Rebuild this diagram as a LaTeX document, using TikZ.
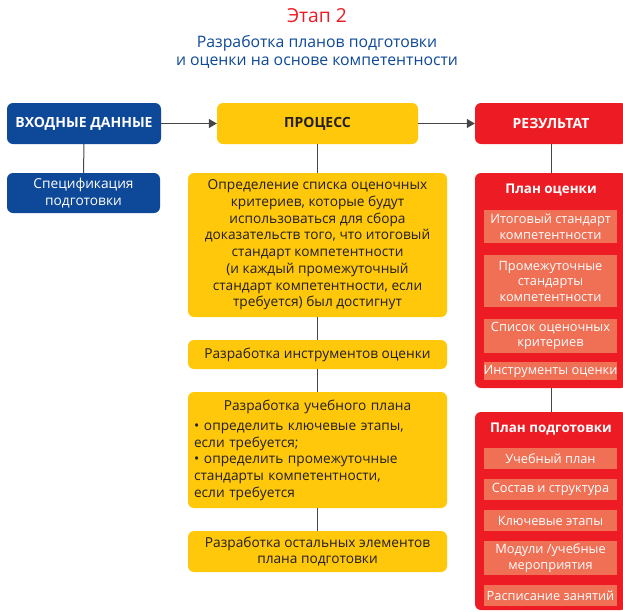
\documentclass[tikz,border=0pt]{standalone}
\usepackage{fontspec}
\setmainfont{Open Sans}
\usetikzlibrary{arrows.meta}
\definecolor{inblue}{RGB}{14,72,152}
\definecolor{procyel}{RGB}{255,200,10}
\definecolor{resred}{RGB}{237,28,36}
\definecolor{ressalmon}{RGB}{240,112,85}
\definecolor{darktext}{RGB}{35,31,32}
\definecolor{linegray}{RGB}{70,70,70}

\begin{document}
\begin{tikzpicture}[x=1pt,y=-1pt,
    font=\fontsize{13.7}{16.7}\selectfont,
    box/.style={rounded corners=6pt,align=center,inner sep=0pt},
    head/.style={box,minimum height=41pt,font=\fontsize{14}{16}\selectfont\bfseries},
    inbox/.style={box,fill=inblue,text=white},
    procbox/.style={box,fill=procyel,text=darktext,minimum width=259pt},
    resbox/.style={box,fill=resred,text=white,minimum width=152pt},
    item/.style={fill=ressalmon,text=white,minimum width=133pt,inner sep=0pt,align=center,
      font=\fontsize{12.8}{15.5}\selectfont},
    conn/.style={draw=linegray,line width=1pt},
    flow/.style={draw=linegray,line width=1.3pt,-{Triangle[length=8pt,width=9pt]}}]
  \useasboundingbox (0,0) rectangle (623,611);

  \node[text=resred,font=\fontsize{19.3}{21}\selectfont] (stage) at (317,16) {Этап 2};
  \node[text=inblue,align=center,font=\fontsize{15.8}{17.5}\selectfont] (subtitle) at (317,52)
    {Разработка планов подготовки\\и оценки на основе компетентности};

  \node[head,inbox,minimum width=154pt] (in) at (84,123.5) {ВХОДНЫЕ ДАННЫЕ};
  \node[head,procbox,minimum width=201pt,text=darktext] (proc) at (317.5,123.5) {ПРОЦЕСС};
  \node[head,resbox] (res) at (551,123.5) {РЕЗУЛЬТАТ};

  \draw[flow] (in) -- (proc);
  \draw[flow] (proc) -- (res);

  % input side
  \node[inbox,minimum width=153pt,minimum height=40pt] (spec) at (83.5,193)
    {Спецификация\\подготовки};
  \draw[conn] (in) -- (spec);

  % process side
  \node[procbox,minimum height=144pt] (p1) at (317.5,245)
    {Определение списка оценочных\\критериев, которые будут\\использоваться для сбора\\
     доказательств того, что итоговый\\стандарт компетентности\\(и каждый промежуточный\\
     стандарт компетентности, если\\требуется) был достигнут};
  \node[procbox,minimum height=29pt] (p2) at (317.5,354.5) {Разработка инструментов оценки};
  \node[procbox,minimum height=116pt,text width=247pt,align=left] (p3) at (317.5,450)
    {\centering Разработка учебного плана\par\vspace{3.5pt}\raggedright
     \noindent\hangindent=10pt\hangafter=1\makebox[10pt][l]{•}определить ключевые этапы,\\
     если требуется;\par
     \noindent\hangindent=10pt\hangafter=1\makebox[10pt][l]{•}определить промежуточные\\
     стандарты компетентности,\\если требуется\par};
  \node[procbox,minimum height=41pt] (p4) at (317.5,551.5)
    {Разработка остальных элементов\\плана подготовки};
  \draw[conn] (proc) -- (p1);
  \draw[conn] (p1) -- (p2);
  \draw[conn] (p2) -- (p3);
  \draw[conn] (p3) -- (p4);

  % result side
  \node[resbox,minimum height=215pt] (assess) at (551,280.5) {};
  \node[resbox,minimum height=198pt] (train) at (551,511) {};
  \draw[conn] (res) -- (assess);
  \draw[conn] (assess) -- (train);

  \node[text=white,font=\fontsize{13.4}{15}\selectfont\bfseries] (assesstitle) at (551,190) {План оценки};
  \node[item,minimum height=33pt] (a1) at (550.5,226.5) {Итоговый стандарт\\компетентности};
  \node[item,minimum height=52pt] (a2) at (550.5,281) {Промежуточные\\стандарты\\компетентности};
  \node[item,minimum height=34pt] (a3) at (550.5,336) {Список оценочных\\критериев};
  \node[item,minimum height=18pt] (a4) at (550.5,371) {Инструменты оценки};

  \node[text=white,font=\fontsize{13.4}{15}\selectfont\bfseries] (traintitle) at (551,429) {План подготовки};
  \node[item,minimum height=21pt] (t1) at (550.5,458.5) {Учебный план};
  \node[item,minimum height=21pt] (t2) at (550.5,489.5) {Состав и структура};
  \node[item,minimum height=21pt] (t3) at (550.5,520.5) {Ключевые этапы};
  \node[item,minimum height=34pt] (t4) at (550.5,558) {Модули /учебные\\мероприятия};
  \node[item,minimum height=21pt] (t5) at (550.5,595.5) {Расписание занятий};
\end{tikzpicture}
\end{document}
